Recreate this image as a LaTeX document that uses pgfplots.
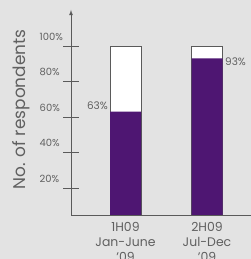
\documentclass[border=0pt]{standalone}
\usepackage{pgfplots}
\pgfplotsset{compat=1.18}
\usepackage{fontspec}
\setmainfont{Poppins}
\definecolor{bg}{HTML}{E3E3E3}
\definecolor{purp}{HTML}{4E1672}
\definecolor{txt}{HTML}{606060}
\definecolor{ax}{HTML}{5A5A5A}
\begin{document}
\begin{tikzpicture}
\fill[bg] (0,0) rectangle (251bp,259bp);
\useasboundingbox (0,0) rectangle (251bp,259bp);
\begin{axis}[
  at={(71bp,44bp)}, anchor=south west,
  scale only axis, width=180bp, height=205bp,
  xmin=0, xmax=180, ymin=4.8, ymax=120.3,
  axis lines*=left,
  x axis line style={-, draw=ax, line width=0.8bp},
  y axis line style={-latex, draw=ax, line width=0.8bp},
  ytick={20,40,60,80,100},
  yticklabels={20\%,40\%,60\%,80\%,100\%},
  ytick pos=left, xtick pos=bottom,
  tick align=center, major tick length=15bp,
  ytick style={draw=ax, line width=0.8bp},
  xtick={54.5,136}, xtick style={draw=none},
  xticklabels={{1H09\\Jan-June\\'09},{2H09\\Jul-Dec\\'09}},
  xticklabel style={align=center, font=\fontsize{12.5}{15}\selectfont, text=txt, inner sep=0pt, anchor=north, yshift=0bp},
  yticklabel style={anchor=base west, font=\fontsize{10}{12}\selectfont, text=txt, inner sep=0pt, xshift=-24bp, yshift=6bp},
  ylabel={No. of respondents},
  ylabel style={at={(axis description cs:-0.278,0.515)}, anchor=center, font=\fontsize{17}{20}\selectfont, text=txt},
  clip=true,
]
\addplot[ybar, bar shift=0pt, bar width=31, fill=white, draw=ax, line width=0.8bp] coordinates {(54.5,100) (136,100)};
\addplot[ybar, bar shift=0pt, bar width=31, fill=purp, draw=none] coordinates {(54.5,63) (136,93)};
\node[anchor=south east, font=\fontsize{10.5}{12}\selectfont, text=txt, inner sep=0pt] at (axis cs:37,64) {63\%};
\node[anchor=west, font=\fontsize{10.5}{12}\selectfont, text=txt, inner sep=0pt] at (axis cs:154,91) {93\%};
\end{axis}
\end{tikzpicture}
\end{document}
